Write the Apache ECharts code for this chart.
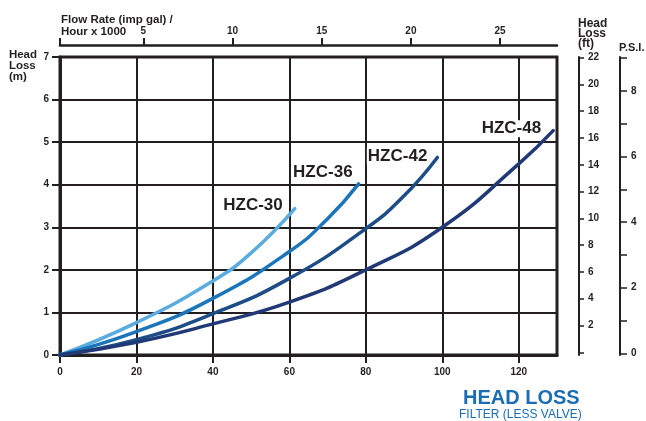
<!DOCTYPE html>
<html>
<head>
<meta charset="utf-8">
<script src="https://cdn.jsdelivr.net/npm/echarts@6/dist/echarts.min.js"></script>
<style>
html,body{margin:0;padding:0;background:#fff;}
#chart{width:646px;height:421px;}
</style>
</head>
<body>
<div id="chart"></div>
<script>
// ---- data (flow m3/h, head loss m) ----
const seriesNames = ['HZC-30', 'HZC-36', 'HZC-42', 'HZC-48'];
const hzc30 = [[0,0],[20,0.76],[40,1.74],[50,2.4],[61.4,3.44]];
const hzc36 = [[0,0],[20,0.55],[40,1.33],[60,2.43],[70,3.2],[78.1,4.02]];
const hzc42 = [[0,0],[20,0.36],[40,0.97],[60,1.8],[80,2.97],[90,3.74],[98.7,4.64]];
const hzc48 = [[0,0],[20,0.3],[40,0.73],[60,1.24],[80,2.0],[100,3.0],[120,4.49],[129,5.27]];

// ---- axis ticks ----
const flowTopTicks = [5, 10, 15, 20, 25];
const ftTickMarks = [0,2,4,6,8,10,12,14,16,18,20,22];
const ftTickLabels = [2,4,6,8,10,12,14,16,18,20,22];
const psiTickMarks = [0,1,2,3,4,5,6,7,8,9];
const psiTickLabels = [0,2,4,6,8];

const colors = ['#5aabdf', '#1b75ba', '#1c4d86', '#213a77'];
const ink = '#231f20';
const lblFont = {color: ink, fontSize: 10, fontWeight: 'bold', fontFamily: 'Liberation Sans, Arial, sans-serif'};
const labelOffsets = [[-11,-3],[-5,-12],[-9,-1],[-11,-2]];

const chart = echarts.init(document.getElementById('chart'));
const dataSets = [hzc30, hzc36, hzc42, hzc48];

chart.setOption({
  animation: false,
  backgroundColor: '#fff',
  grid: {left: 60, top: 57, width: 497, height: 298, show: true, borderColor: ink, borderWidth: 3, backgroundColor: 'transparent'},
  xAxis: [
    {type: 'value', min: 0, max: 130, interval: 20, position: 'bottom',
     axisLine: {show: true, onZero: false, lineStyle: {color: ink, width: 3}},
     axisTick: {show: true, length: 8, lineStyle: {color: ink, width: 2}},
     axisLabel: Object.assign({margin: 12, showMaxLabel: false}, lblFont),
     splitLine: {show: true, lineStyle: {color: ink, width: 2}}},
    {type: 'value', min: 0.33, max: 28.19, position: 'top', offset: 12,
     axisLine: {show: true, onZero: false, lineStyle: {color: ink, width: 2.5}},
     axisTick: {show: true, length: 7, lineStyle: {color: ink, width: 2}, customValues: [0.33].concat(flowTopTicks)},
     axisLabel: Object.assign({margin: 9, customValues: flowTopTicks}, lblFont),
     splitLine: {show: false}}
  ],
  yAxis: [
    {type: 'value', min: 0, max: 7, interval: 1, position: 'left',
     axisLine: {show: true, onZero: false, lineStyle: {color: ink, width: 3}},
     axisTick: {show: true, length: 8, lineStyle: {color: ink, width: 2}},
     axisLabel: Object.assign({margin: 11}, lblFont),
     splitLine: {show: true, lineStyle: {color: ink, width: 2}}},
    {type: 'value', min: -0.2, max: 22.05, position: 'right', offset: 22,
     axisLine: {show: true, onZero: false, lineStyle: {color: ink, width: 2}},
     axisTick: {show: true, length: 5, lineStyle: {color: ink, width: 1.5}, customValues: ftTickMarks},
     axisLabel: Object.assign({margin: 9, customValues: ftTickLabels}, lblFont),
     splitLine: {show: false}},
    {type: 'value', min: -0.05, max: 9.03, position: 'right', offset: 63,
     axisLine: {show: true, onZero: false, lineStyle: {color: ink, width: 2}},
     axisTick: {show: true, length: 7, lineStyle: {color: ink, width: 1.5}, customValues: psiTickMarks},
     axisLabel: Object.assign({margin: 11, customValues: psiTickLabels}, lblFont),
     splitLine: {show: false}}
  ],
  series: dataSets.map((d, i) => ({
    name: seriesNames[i], type: 'line', xAxisIndex: 0, yAxisIndex: 0,
    data: d, smooth: 0.5, showSymbol: false, symbol: 'none',
    lineStyle: {color: colors[i], width: 3.5, cap: 'round'},
    z: 5,
    endLabel: {show: true, formatter: '{a}', color: ink, fontSize: 17, fontWeight: 'bold',
      fontFamily: 'Liberation Sans, Arial, sans-serif', align: 'right', verticalAlign: 'middle',
      distance: 0, offset: labelOffsets[i], backgroundColor: '#fff', padding: [0, 1]}
  })),
  graphic: [
    {type: 'text', left: 61, top: 14, style: {text: 'Flow Rate (imp gal) /\nHour x 1000', fill: ink, font: 'bold 11.5px "Liberation Sans", Arial, sans-serif', lineHeight: 12}},
    {type: 'text', right: 646 - 37, top: 49, style: {text: 'Head\nLoss\n(m)', fill: ink, align: 'right', font: 'bold 11.5px "Liberation Sans", Arial, sans-serif', lineHeight: 11}},
    {type: 'text', left: 578, top: 18, style: {text: 'Head\nLoss\n(ft)', fill: ink, font: 'bold 12px "Liberation Sans", Arial, sans-serif', lineHeight: 10}},
    {type: 'text', left: 619, top: 42, style: {text: 'P.S.I.', fill: ink, font: 'bold 11px "Liberation Sans", Arial, sans-serif'}},
    {type: 'text', left: 463, top: 388, style: {text: 'HEAD LOSS', fill: '#1b6db4', font: 'bold 20px "Liberation Sans", Arial, sans-serif'}},
    {type: 'text', left: 459, top: 409, style: {text: 'FILTER (LESS VALVE)', fill: '#1b6db4', font: '12px "Liberation Sans", Arial, sans-serif'}}
  ]
});
</script>
</body>
</html>
